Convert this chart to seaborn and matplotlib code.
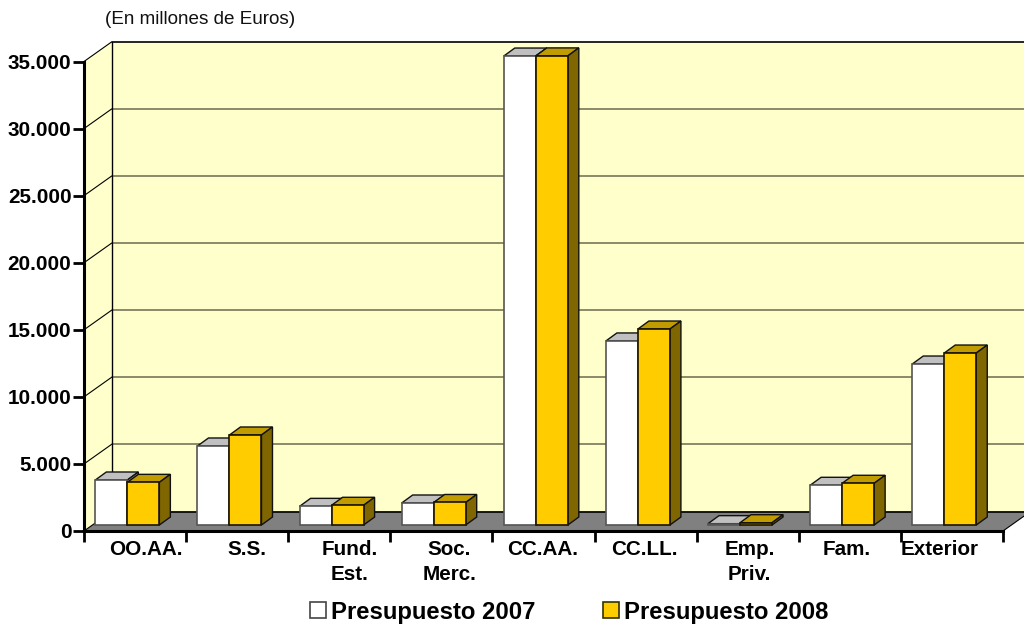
import matplotlib
matplotlib.use("Agg")
import matplotlib.pyplot as plt
from matplotlib.patches import Polygon
from matplotlib.transforms import Affine2D, IdentityTransform
import pandas as pd
import seaborn as sns

categories = ['OO.AA.', 'S.S.', 'Fund.\nEst.', 'Soc.\nMerc.', 'CC.AA.', 'CC.LL.', 'Emp.\nPriv.', 'Fam.', 'Exterior']
presupuesto_2007 = [3355, 5890, 1390, 1640, 34960, 13720, 100, 2960, 12000]
presupuesto_2008 = [3180, 6710, 1470, 1680, 34970, 14610, 170, 3110, 12820]
series_names = ['Presupuesto 2007', 'Presupuesto 2008']
y_ticks = [0, 5000, 10000, 15000, 20000, 25000, 30000, 35000]
y_labels = ['0', '5.000', '10.000', '15.000', '20.000', '25.000', '30.000', '35.000']
subtitle = '(En millones de Euros)'

# styling
label_shift_px = [11, 10, 10, 8, -1, -1, 2, -3, -12]
face = ['#FFFFFF', '#FFCC00']
top = ['#C0C0C0', '#C09C00']
side = ['#808080', '#7F6600']
edge = ['#555555', '#1A1400']

sns.set_theme(style='white')
plt.rcParams['font.family'] = ['Liberation Sans', 'DejaVu Sans']

W, H = 1024, 627
fig = plt.figure(figsize=(W / 100, H / 100), dpi=100, facecolor='white')
L, R, T, B = 84.0, 1003.0, 61.5, 531.0
ax = fig.add_axes([L / W, (H - B) / H, (R - L) / W, (B - T) / H])
ax.patch.set_visible(False)

df = pd.DataFrame({
    'cat': categories * 2,
    'serie': [series_names[0]] * 9 + [series_names[1]] * 9,
    'valor': presupuesto_2007 + presupuesto_2008,
})
sns.barplot(data=df, x='cat', y='valor', hue='serie', order=categories, hue_order=series_names,
            palette=face, width=0.627, gap=0, dodge=True, errorbar=None, ax=ax, saturation=1,
            linewidth=1.2, edgecolor='#333333')

x0 = -0.5 + 7.7 / ((R - L) / 9)
ax.set_xlim(x0, x0 + 9)
ax.set_ylim(0, 35000)

# room: back wall, side wall, floor
DX, DY = 27.5, 19.5
data_xy = ax.transData.transform
x_lo, x_hi = x0, x0 + 9


def poly(pts, fc, ec='none', lw=0.0, z=1):
    ax.add_patch(Polygon(pts, closed=True, facecolor=fc, edgecolor=ec, linewidth=lw, zorder=z,
                         transform=IdentityTransform(), clip_on=False))


def shift(p, d=(DX, DY)):
    return (p[0] + d[0], p[1] + d[1])


def seg(a, b, color, lw):
    ax.plot([a[0], b[0]], [a[1], b[1]], color=color, lw=lw,
            transform=IdentityTransform(), clip_on=False, zorder=0.9)


f_ll, f_rl = data_xy((x_lo, 0)), data_xy((x_hi, 0))
f_lt, f_rt = data_xy((x_lo, 35000)), data_xy((x_hi, 35000))
poly([shift(f_ll), shift(f_rl), shift(f_rt), shift(f_lt)], '#FFFFCC', z=0.5)
poly([f_ll, shift(f_ll), shift(f_lt), f_lt], '#FFFFCC', z=0.6)
poly([f_ll, f_rl, shift(f_rl), shift(f_ll)], '#808080', z=0.7)

for t in y_ticks:
    a = data_xy((x_lo, t))
    b = shift(a)
    c = shift(data_xy((x_hi, t)))
    seg(b, c, '#000000' if t in (0, 35000) else '#77775A', 1.2)
    seg(a, b, 'black', 0.8)
seg(shift(f_ll), shift(f_lt), 'black', 1.0)
seg(f_rl, shift(f_rl), 'black', 0.8)

# bars stand 6 px into the floor; each gets a top and a side face
bar_tr = ax.transData + Affine2D().translate(0, 6)
bar_d = (11, 8)
for s, cont in enumerate(ax.containers):
    base_z = 3 + 2 * s
    for i, p in enumerate(cont.patches):
        p.set_transform(bar_tr)
        p.set_clip_on(False)
        p.set_zorder(base_z + 1 + 0.01 * i)
        p.set_edgecolor(edge[s])
        xa, w, h = p.get_x(), p.get_width(), p.get_height()
        ll, rl = bar_tr.transform((xa, 0)), bar_tr.transform((xa + w, 0))
        lt, rt = bar_tr.transform((xa, h)), bar_tr.transform((xa + w, h))
        poly([lt, rt, shift(rt, bar_d), shift(lt, bar_d)], top[s], '#111111', 1.0, base_z + 0.01 * i)
        poly([rl, shift(rl, bar_d), shift(rt, bar_d), rt], side[s], '#111111', 1.0, base_z + 0.01 * i)

# axes and ticks
sns.despine(ax=ax, top=True, right=True)
for name in ('left', 'bottom'):
    ax.spines[name].set_linewidth(2.2)
    ax.spines[name].set_color('black')
    ax.spines[name].set_zorder(20)
ax.set_xlabel('')
ax.set_ylabel('')
ax.set_yticks(y_ticks, y_labels, fontsize=14.9, fontweight='bold', color='black')
ax.set_xticks([x0 + k for k in range(10)], [''] * 10)
ax.tick_params(axis='y', length=8, width=2, color='black', pad=1, left=True)
ax.tick_params(axis='x', length=8, width=2, color='black', bottom=True)

for i, lab in enumerate(categories):
    xp = data_xy((i, 0))[0] + label_shift_px[i] + 7.7
    ax.text(xp, H - 540, lab, transform=IdentityTransform(), ha='center', va='top', fontsize=14.9,
            fontweight='bold', color='black', linespacing=1.41, clip_on=False)

fig.text(105 / W, (H - 20) / H, subtitle, fontsize=13.6, color='#111111', ha='left', va='center')

sns.move_legend(ax, 'center', bbox_to_anchor=(569 / W, (H - 612) / H),
                bbox_transform=fig.transFigure, ncol=2, frameon=False, title=None,
                fontsize=17.2, handlelength=0.67, handleheight=0.67, handletextpad=0.2,
                columnspacing=2.83, borderpad=0, borderaxespad=0)
leg = ax.get_legend()
for t in leg.get_texts():
    t.set_fontweight('bold')
    t.set_color('black')
leg.legend_handles[0].set_edgecolor('#444444')
leg.legend_handles[1].set_edgecolor('#333300')
leg.set_zorder(30)

fig.savefig('out.png', dpi=100, facecolor='white')
